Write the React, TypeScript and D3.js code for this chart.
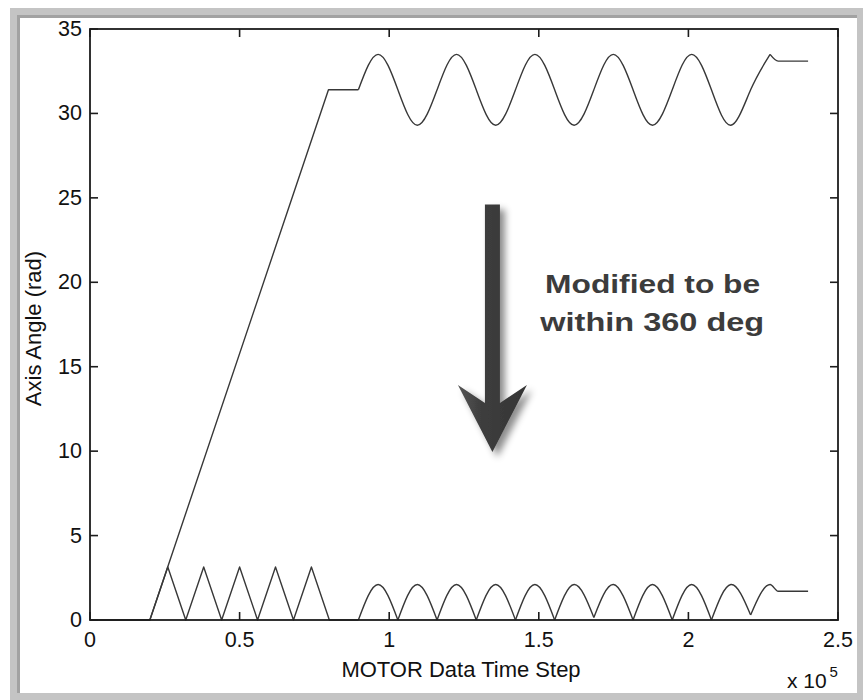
import React from 'react';
import * as d3 from 'd3';

// Axis ticks
const xTicks = [0, 0.5, 1, 1.5, 2, 2.5];
const xTickLabels = ['0', '0.5', '1', '1.5', '2', '2.5'];
const yTicks = [0, 5, 10, 15, 20, 25, 30, 35];

// Original (unwrapped) angle: ramp part
const rampTimes = [0, 0.2, 0.797, 0.897];
const rampAngles = [0, 0, 31.4, 31.4];

// Oscillation part (times shared by both series): crossings / extrema
const waveTimes = [
  0.897, 0.963, 1.029, 1.094, 1.160, 1.225, 1.291, 1.356, 1.422, 1.487, 1.553,
  1.618, 1.684, 1.749, 1.815, 1.880, 1.946, 2.011, 2.077, 2.142, 2.208, 2.273,
];
const waveAngles = [
  31.4, 33.5, 31.4, 29.3, 31.4, 33.5, 31.4, 29.3, 31.4, 33.5, 31.4,
  29.3, 31.4, 33.5, 31.4, 29.3, 31.4, 33.5, 31.4, 29.3, 31.4, 33.5,
];
// Tail of original series
const tailTimes = [2.273, 2.3, 2.4];
const tailAngles = [33.5, 33.1, 33.1];

// Wrapped (within 360 deg) series: triangle part
const triTimes = [0, 0.2, 0.26, 0.32, 0.38, 0.44, 0.5, 0.56, 0.62, 0.68, 0.74, 0.8, 0.897];
const triAngles = [0, 0, 3.14, 0, 3.14, 0, 3.14, 0, 3.14, 0, 3.14, 0, 0];
// Wrapped oscillation (arches), same times as waveTimes
const wrapAngles = [
  0, 2.1, 0, 2.1, 0, 2.1, 0, 2.1, 0, 2.1, 0,
  2.1, 0.15, 2.1, 0, 2.1, 0, 2.1, 0, 2.1, 0.3, 2.1,
];
const wrapTailTimes = [2.208, 2.273, 2.3, 2.4];
const wrapTailAngles = [0.3, 2.1, 1.7, 1.7];

// Annotation (in data units)
const arrowX = 1.345;
const arrowTop = 24.6;
const arrowTip = 9.95;
const noteLines = ['Modified to be', 'within 360 deg'];
const noteX = [1.521, 1.505];
const noteY = [19.37, 17.12];

const W = 863;
const H = 700;
const FONT = "'Liberation Sans', Arial, Helvetica, sans-serif";

export default function App() {
  const x = d3.scaleLinear().domain([0, 2.5]).range([90, 838]);
  const y = d3.scaleLinear().domain([0, 35]).range([620, 29]);

  const zip = (t: number[], v: number[]) => t.map((d, i) => [d, v[i]] as [number, number]);

  const linear = d3.line<[number, number]>().x(d => x(d[0])).y(d => y(d[1]));
  const natural = d3.line<[number, number]>().x(d => x(d[0])).y(d => y(d[1])).curve(d3.curveNatural);
  const mono = d3.line<[number, number]>().x(d => x(d[0])).y(d => y(d[1])).curve(d3.curveMonotoneX);

  const paths: string[] = [];
  // original series
  paths.push(linear(zip(rampTimes, rampAngles)) as string);
  paths.push(natural(zip(waveTimes, waveAngles)) as string);
  paths.push(mono(zip(tailTimes, tailAngles)) as string);
  // wrapped series
  paths.push(linear(zip(triTimes, triAngles)) as string);
  const wrapPts = zip(waveTimes, wrapAngles);
  for (let i = 0; i + 2 < wrapPts.length; i += 2) {
    paths.push(natural(wrapPts.slice(i, i + 3)) as string);
  }
  paths.push(mono(zip(wrapTailTimes, wrapTailAngles)) as string);

  // arrow geometry
  const cx = x(arrowX);
  const top = y(arrowTop);
  const tip = y(arrowTip);
  const sw = 7.5;
  const hw = 34.5;
  const arrowPts = [
    [cx - sw, top],
    [cx + sw, top],
    [cx + sw, tip - 49],
    [cx + hw, tip - 67],
    [cx, tip],
    [cx - hw, tip - 67],
    [cx - sw, tip - 49],
  ];

  const tickLen = 8;
  const noteScale = [1.27, 1.3];

  return (
    <svg
      width={W}
      height={H}
      style={{ position: 'absolute', left: 0, top: 0, background: '#fff' }}
      fontFamily={FONT}
    >
      <defs>
        <filter id="shadow" x="-80%" y="-20%" width="260%" height="150%">
          <feDropShadow dx="5" dy="5" stdDeviation="3.5" floodColor="#000" floodOpacity="0.45" />
        </filter>
        <linearGradient id="shaft" x1="0" x2="1" y1="0" y2="0">
          <stop offset="0" stopColor="#555" />
          <stop offset="0.35" stopColor="#3d3d3d" />
          <stop offset="1" stopColor="#353535" />
        </linearGradient>
      </defs>

      {/* window frame */}
      <rect x={10} y={8} width={853} height={692} fill="#c4c4c4" />
      <rect x={17} y={15} width={840} height={678} fill="#ffffff" />
      <rect x={17} y={15} width={840} height={3} fill="#a2a2a2" />
      <rect x={17} y={15} width={3} height={678} fill="#a2a2a2" />

      {/* data lines */}
      <g fill="none" stroke="#383838" strokeWidth={1.4} strokeLinejoin="round">
        {paths.map((p, i) => (
          <path key={i} d={p} />
        ))}
      </g>

      {/* axes box */}
      <rect x={x(0)} y={y(35)} width={x(2.5) - x(0)} height={y(0) - y(35)} fill="none" stroke="#1c1c1c" strokeWidth={1.8} />
      <g stroke="#1c1c1c" strokeWidth={1.6}>
        {xTicks.map((t, i) => (
          <g key={'xt' + i}>
            <line x1={x(t)} x2={x(t)} y1={y(0)} y2={y(0) - tickLen} />
            <line x1={x(t)} x2={x(t)} y1={y(35)} y2={y(35) + tickLen} />
          </g>
        ))}
        {yTicks.map((t, i) => (
          <g key={'yt' + i}>
            <line x1={x(0)} x2={x(0) + tickLen} y1={y(t)} y2={y(t)} />
            <line x1={x(2.5)} x2={x(2.5) - tickLen} y1={y(t)} y2={y(t)} />
          </g>
        ))}
      </g>

      {/* tick labels */}
      <g fontSize={21.5} fill="#111">
        {xTicks.map((t, i) => (
          <text key={'xl' + i} x={x(t)} y={647} textAnchor="middle">
            {xTickLabels[i]}
          </text>
        ))}
        {yTicks.map((t, i) => (
          <text key={'yl' + i} x={82} y={y(t)} textAnchor="end" dominantBaseline="central">
            {t}
          </text>
        ))}
      </g>

      {/* axis labels */}
      <text x={(x(0) + x(2.5)) / 2 - 3} y={677} textAnchor="middle" fontSize={22} fill="#111">
        MOTOR Data Time Step
      </text>
      <text
        transform={`translate(41, ${(y(0) + y(35)) / 2 + 4}) rotate(-90)`}
        textAnchor="middle"
        fontSize={22}
        fill="#111"
      >
        Axis Angle (rad)
      </text>
      <text x={787} y={688} fontSize={21} fill="#111">
        x 10
      </text>
      <text x={829.5} y={677} fontSize={15} fill="#111">
        5
      </text>

      {/* annotation arrow */}
      <polygon
        points={arrowPts.map(p => p.join(',')).join(' ')}
        fill="url(#shaft)"
        filter="url(#shadow)"
      />

      {/* annotation text */}
      <g fontSize={25} fontWeight="bold" fill="#3c3c3c">
        {noteLines.map((s, i) => (
          <text
            key={'n' + i}
            transform={`translate(${x(noteX[i])}, ${y(noteY[i])}) scale(${noteScale[i]}, 1)`}
          >
            {s}
          </text>
        ))}
      </g>
    </svg>
  );
}
